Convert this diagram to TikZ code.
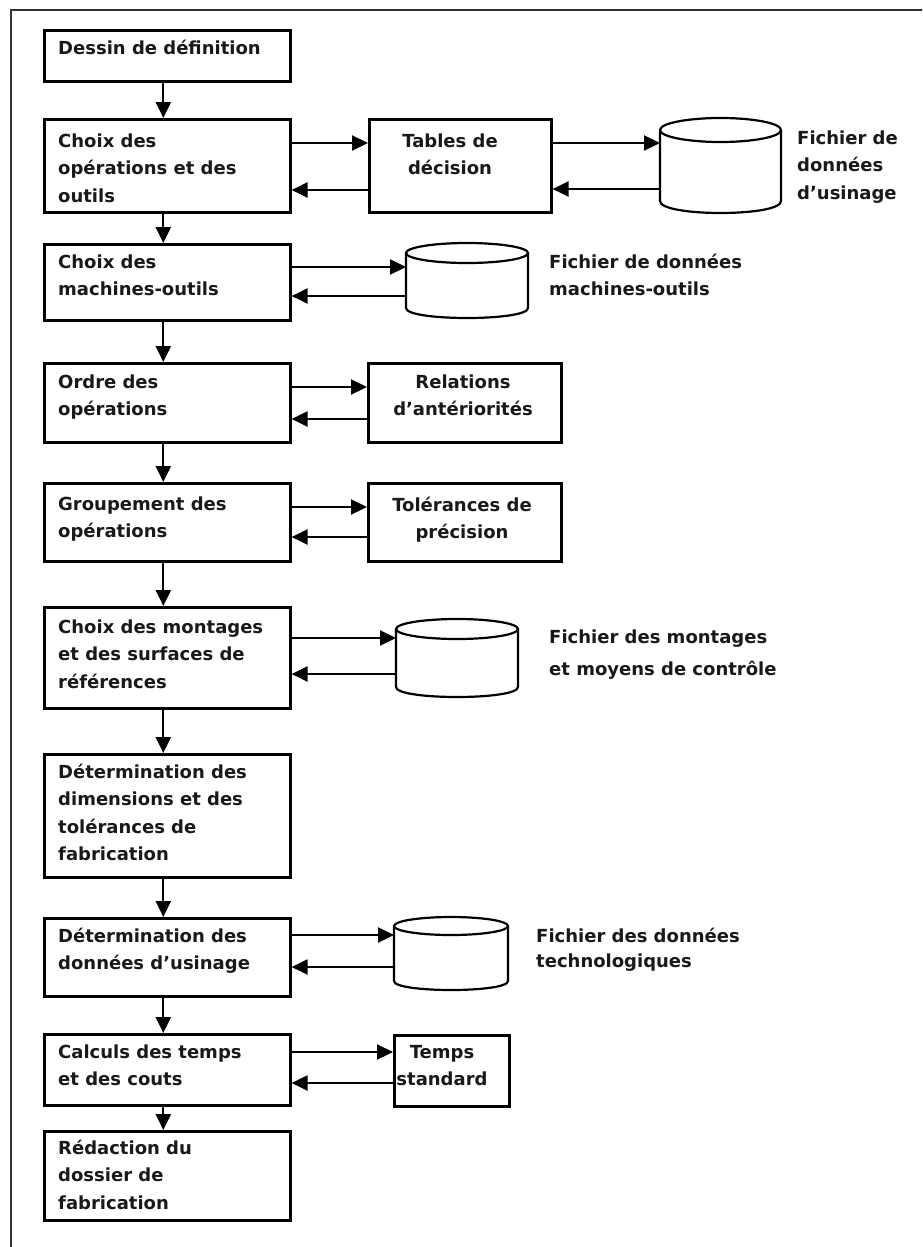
\documentclass[tikz,border=0pt]{standalone}
\usepackage{fontspec}
\setmainfont{DejaVu Sans}
\usetikzlibrary{arrows.meta}
% label font: bold sans, fixed line spacing
\newcommand\lbl{\fontsize{18}{27.5}\selectfont\bfseries}
% upright drum: left, top, right, bottom, ellipse half-height
\newcommand\drum[5]{%
  \draw[drumline] ({(#1+#3)/2},{#2+#5}) ellipse [x radius={(#3-#1)/2}, y radius=#5];
  \draw[drumline] (#1,{#2+#5}) -- (#1,{#4-#5})
    .. controls (#1,{#4+#5/3}) and (#3,{#4+#5/3}) .. (#3,{#4-#5}) -- (#3,{#2+#5});
}
\begin{document}
\begin{tikzpicture}[x=1pt,y=-1pt,
  box/.style={draw=black, line width=2.6pt, fill=white, anchor=north west, inner sep=0},
  stepbox/.style={box, minimum width=246pt},
  drumbody/.style={draw=none, anchor=north west, inner sep=0},
  drumline/.style={draw=black, line width=2.2pt},
  txt/.style={anchor=north west, inner sep=0, yshift=19.25pt, align=left, font=\lbl, text=black!90},
  ctxt/.style={anchor=north, inner sep=0, yshift=19.25pt, align=center, font=\lbl, text=black!90},
  arr/.style={draw=black, line width=2.2pt, -{Triangle[length=16pt,width=15pt]}}]

\useasboundingbox (0,0) rectangle (922,1247);
\fill[white] (0,0) rectangle (922,1247);
\begin{scope}
  \clip (0,0) rectangle (922,1247);
  \draw[line width=2.5pt, black!80] (11,10) rectangle (940,1265);
\end{scope}

% main sequence of steps
\node[stepbox, minimum height=51pt]  (b1)  at (43,29)   {};
\node[stepbox, minimum height=93pt]  (b2)  at (43,118)  {};
\node[stepbox, minimum height=76pt]  (b3)  at (43,243)  {};
\node[stepbox, minimum height=79pt]  (b4)  at (43,362)  {};
\node[stepbox, minimum height=78pt]  (b5)  at (43,482)  {};
\node[stepbox, minimum height=101pt] (b6)  at (43,606)  {};
\node[stepbox, minimum height=123pt] (b7)  at (43,753)  {};
\node[stepbox, minimum height=78pt]  (b8)  at (43,917)  {};
\node[stepbox, minimum height=71pt]  (b9)  at (43,1033) {};
\node[stepbox, minimum height=89pt]  (b10) at (43,1130) {};

\node[txt] (t1)  at (58,54)   {\strut Dessin de définition};
\node[txt] (t2)  at (58,147)  {\strut Choix des\\opérations et des\\outils};
\node[txt] (t3)  at (58,268)  {\strut Choix des\\machines-outils};
\node[txt] (t4)  at (58,388)  {\strut Ordre des\\opérations};
\node[txt] (t5)  at (58,510)  {\strut Groupement des\\opérations};
\node[txt] (t6)  at (58,633)  {\strut Choix des montages\\et des surfaces de\\références};
\node[txt] (t7)  at (58,778)  {\strut Détermination des\\dimensions et des\\tolérances de\\fabrication};
\node[txt] (t8)  at (58,942)  {\strut Détermination des\\données d’usinage};
\node[txt] (t9)  at (58,1058) {\strut Calculs des temps\\et des couts};
\node[txt] (t10) at (58,1154) {\strut Rédaction du\\dossier de\\fabrication};

% side tables
\node[box, minimum width=182pt, minimum height=93pt] (tab)   at (368,118)  {};
\node[box, minimum width=193pt, minimum height=79pt] (rel)   at (367,362)  {};
\node[box, minimum width=193pt, minimum height=78pt] (tol)   at (367,482)  {};
\node[box, minimum width=115pt, minimum height=71pt] (temps) at (393,1034) {};

\node[ctxt] (ttab)   at (450,147)  {\strut Tables de\\décision};
\node[ctxt] (trel)   at (463,388)  {\strut Relations\\d’antériorités};
\node[ctxt] (ttol)   at (462,511)  {\strut Tolérances de\\précision};
\node[ctxt] (ttemps) at (442,1058) {\strut Temps\\standard};

% data files
\node[drumbody, minimum width=121pt, minimum height=95pt] (cyl1) at (660,118) {};
\node[drumbody, minimum width=122pt, minimum height=75pt] (cyl2) at (406,243) {};
\node[drumbody, minimum width=122pt, minimum height=78pt] (cyl3) at (396,619) {};
\node[drumbody, minimum width=114pt, minimum height=73pt] (cyl4) at (394,917) {};
\drum{660}{118}{781}{213}{12}
\drum{406}{243}{528}{318}{10}
\drum{396}{619}{518}{697}{10}
\drum{394}{917}{508}{990}{9}

\node[txt] (f1) at (797,144) {\strut Fichier de\\données\\d’usinage};
\node[txt] (f2) at (549,268) {\strut Fichier de données\\machines-outils};
\node[txt] (f3) at (549,643) {\strut Fichier des montages\\[5pt]et moyens de contrôle};
\node[txt] (f4) at (536,942) {\strut Fichier des données\\[-2pt]technologiques};

% flow down the main column
\foreach \a/\b in {b1/b2,b2/b3,b3/b4,b4/b5,b5/b6,b6/b7,b7/b8,b8/b9,b9/b10}
  \draw[arr] ([xshift=-4pt]\a.south) -- ([xshift=-4pt]\b.north);

% exchanges with tables and files
\draw[arr] (b2.east |- 0,143) -- (tab.west |- 0,143);
\draw[arr] (tab.west |- 0,190) -- (b2.east |- 0,190);
\draw[arr] (tab.east |- 0,143) -- (cyl1.west |- 0,143);
\draw[arr] (cyl1.west |- 0,189) -- (tab.east |- 0,189);

\draw[arr] (b3.east |- 0,267) -- (cyl2.west |- 0,267);
\draw[arr] (cyl2.west |- 0,296) -- (b3.east |- 0,296);

\draw[arr] (b4.east |- 0,387) -- (rel.west |- 0,387);
\draw[arr] (rel.west |- 0,419) -- (b4.east |- 0,419);

\draw[arr] (b5.east |- 0,507) -- (tol.west |- 0,507);
\draw[arr] (tol.west |- 0,537) -- (b5.east |- 0,537);

\draw[arr] (b6.east |- 0,638) -- (cyl3.west |- 0,638);
\draw[arr] (cyl3.west |- 0,674) -- (b6.east |- 0,674);

\draw[arr] (b8.east |- 0,935) -- (cyl4.west |- 0,935);
\draw[arr] (cyl4.west |- 0,967) -- (b8.east |- 0,967);

\draw[arr] (b9.east |- 0,1052) -- (temps.west |- 0,1052);
\draw[arr] (temps.west |- 0,1083) -- (b9.east |- 0,1083);
\end{tikzpicture}
\end{document}
